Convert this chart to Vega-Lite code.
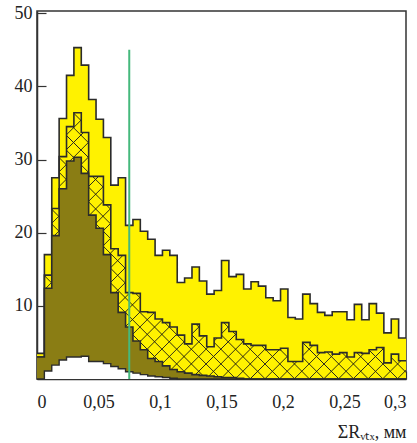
{
  "$schema": "https://vega.github.io/schema/vega-lite/v6.json",
  "width": 369,
  "height": 368,
  "autosize": {"type": "none"},
  "padding": {"left": 37, "top": 11, "right": 11, "bottom": 64},
  "background": "white",
  "config": {"view": {"stroke": "#333", "strokeWidth": 1.5}},
  "data": {"values": [
    {"x": 0, "a": 3.5, "b": 3.0, "c": 3.0, "d": 0},
    {"x": 0.006, "a": 17.0, "b": 14.2, "c": 12.4, "d": 1.1},
    {"x": 0.012, "a": 27.5, "b": 23.3, "c": 19.6, "d": 1.9},
    {"x": 0.018, "a": 35.6, "b": 30.4, "c": 26.0, "d": 2.6},
    {"x": 0.024, "a": 41.5, "b": 34.5, "c": 29.8, "d": 3.0},
    {"x": 0.03, "a": 45.3, "b": 36.4, "c": 30.3, "d": 3.0},
    {"x": 0.036, "a": 42.9, "b": 33.7, "c": 28.1, "d": 3.1},
    {"x": 0.042, "a": 38.2, "b": 27.7, "c": 22.4, "d": 2.4},
    {"x": 0.048, "a": 35.5, "b": 27.7, "c": 20.6, "d": 2.4},
    {"x": 0.054, "a": 33.0, "b": 23.8, "c": 17.0, "d": 2.1},
    {"x": 0.06, "a": 26.5, "b": 17.8, "c": 11.8, "d": 1.7},
    {"x": 0.066, "a": 27.5, "b": 16.9, "c": 9.1, "d": 1.4},
    {"x": 0.072, "a": 21.0, "b": 11.8, "c": 7.1, "d": 1.0},
    {"x": 0.078, "a": 21.8, "b": 11.7, "c": 5.2, "d": 0.8},
    {"x": 0.084, "a": 20.2, "b": 9.2, "c": 4.0, "d": 0.6},
    {"x": 0.09, "a": 19.1, "b": 9.1, "c": 2.8, "d": 0.4},
    {"x": 0.096, "a": 16.9, "b": 8.2, "c": 2.4, "d": 0.3},
    {"x": 0.102, "a": 17.6, "b": 7.7, "c": 1.8, "d": 0.2},
    {"x": 0.108, "a": 16.9, "b": 7.1, "c": 1.3, "d": 0.1},
    {"x": 0.114, "a": 13.2, "b": 6.0, "c": 1.0, "d": 0},
    {"x": 0.12, "a": 13.8, "b": 4.8, "c": 0.8, "d": 0},
    {"x": 0.126, "a": 15.3, "b": 7.5, "c": 0.6, "d": 0},
    {"x": 0.132, "a": 13.4, "b": 5.9, "c": 0.5, "d": 0},
    {"x": 0.138, "a": 11.6, "b": 4.4, "c": 0.4, "d": 0},
    {"x": 0.144, "a": 12.1, "b": 5.6, "c": 0.3, "d": 0},
    {"x": 0.15, "a": 16.2, "b": 7.7, "c": 0.2, "d": 0},
    {"x": 0.156, "a": 14.0, "b": 6.5, "c": 0.2, "d": 0},
    {"x": 0.162, "a": 14.3, "b": 5.4, "c": 0.1, "d": 0},
    {"x": 0.168, "a": 12.3, "b": 4.8, "c": 0, "d": 0},
    {"x": 0.174, "a": 13.3, "b": 4.6, "c": 0, "d": 0},
    {"x": 0.18, "a": 12.7, "b": 4.6, "c": 0, "d": 0},
    {"x": 0.186, "a": 11.1, "b": 4.0, "c": 0, "d": 0},
    {"x": 0.192, "a": 10.7, "b": 4.0, "c": 0, "d": 0},
    {"x": 0.198, "a": 12.3, "b": 4.2, "c": 0, "d": 0},
    {"x": 0.204, "a": 8.4, "b": 2.4, "c": 0, "d": 0},
    {"x": 0.21, "a": 8.2, "b": 2.4, "c": 0, "d": 0},
    {"x": 0.216, "a": 11.6, "b": 5.0, "c": 0, "d": 0},
    {"x": 0.222, "a": 10.3, "b": 4.6, "c": 0, "d": 0},
    {"x": 0.228, "a": 9.1, "b": 3.6, "c": 0, "d": 0},
    {"x": 0.234, "a": 8.7, "b": 3.7, "c": 0, "d": 0},
    {"x": 0.24, "a": 9.2, "b": 3.4, "c": 0, "d": 0},
    {"x": 0.246, "a": 9.2, "b": 3.6, "c": 0, "d": 0},
    {"x": 0.252, "a": 8.1, "b": 3.0, "c": 0, "d": 0},
    {"x": 0.258, "a": 10.2, "b": 3.6, "c": 0, "d": 0},
    {"x": 0.264, "a": 8.1, "b": 3.5, "c": 0, "d": 0},
    {"x": 0.27, "a": 10.3, "b": 4.0, "c": 0, "d": 0},
    {"x": 0.276, "a": 9.0, "b": 4.3, "c": 0, "d": 0},
    {"x": 0.282, "a": 6.3, "b": 2.2, "c": 0, "d": 0},
    {"x": 0.288, "a": 8.2, "b": 3.4, "c": 0, "d": 0},
    {"x": 0.294, "a": 5.6, "b": 2.5, "c": 0, "d": 0},
    {"x": 0.3, "a": 5.6, "b": 2.5, "c": 0, "d": 0}
  ]},
  "encoding": {
    "x": {
      "field": "x", "type": "quantitative",
      "scale": {"domain": [0, 0.3], "nice": false, "zero": false},
      "axis": {
        "values": [0, 0.025, 0.05, 0.075, 0.1, 0.125, 0.15, 0.175, 0.2, 0.225, 0.25, 0.275, 0.3],
        "labelExpr": "abs(datum.value*20 - round(datum.value*20)) < 0.001 ? replace(format(datum.value, '.2~f'), '.', ',') : ''",
        "grid": false,
        "tickSize": -8, "tickColor": "#333", "tickWidth": 1.2,
        "domainColor": "#333", "domainWidth": 1.5,
        "labelFont": "Liberation Serif", "labelFontSize": 18, "labelColor": "#222",
        "labelPadding": 22,
        "title": "ΣRᵥₜₓ, мм",
        "titleFont": "Liberation Serif", "titleFontSize": 18, "titleFontWeight": "normal",
        "titleColor": "#222", "titleAnchor": "end", "titlePadding": 12
      }
    }
  },
  "layer": [
    {
      "mark": {"type": "area", "interpolate": "step-after", "color": "#fff200", "opacity": 1,
               "line": {"color": "#2b2b2b", "strokeWidth": 1.6}},
      "encoding": {
        "y": {"field": "a", "type": "quantitative", "title": null,
              "scale": {"domain": [0, 50.3], "nice": false},
              "axis": {"values": [10, 20, 30, 40, 50], "grid": false,
                       "tickSize": -9, "tickColor": "#333", "tickWidth": 1.2,
                       "domainColor": "#333", "domainWidth": 1.5,
                       "labelFont": "Liberation Serif", "labelFontSize": 18, "labelColor": "#222",
                       "labelPadding": 14, "title": null}}
      }
    },
    {
      "mark": {"type": "area", "interpolate": "step-after", "opacity": 1,
               "color": {"gradient": "linear", "x1": 0, "y1": 0, "x2": 1.133, "y2": 0.816,
                 "stops": [
{"offset":0.0102,"color":"rgba(0,0,0,0)"},{"offset":0.0116,"color":"#222"},{"offset":0.013,"color":"rgba(0,0,0,0)"},
{"offset":0.0334,"color":"rgba(0,0,0,0)"},{"offset":0.0348,"color":"#222"},{"offset":0.0362,"color":"rgba(0,0,0,0)"},
{"offset":0.0566,"color":"rgba(0,0,0,0)"},{"offset":0.058,"color":"#222"},{"offset":0.0594,"color":"rgba(0,0,0,0)"},
{"offset":0.0798,"color":"rgba(0,0,0,0)"},{"offset":0.0812,"color":"#222"},{"offset":0.0826,"color":"rgba(0,0,0,0)"},
{"offset":0.103,"color":"rgba(0,0,0,0)"},{"offset":0.1044,"color":"#222"},{"offset":0.1058,"color":"rgba(0,0,0,0)"},
{"offset":0.1262,"color":"rgba(0,0,0,0)"},{"offset":0.1276,"color":"#222"},{"offset":0.129,"color":"rgba(0,0,0,0)"},
{"offset":0.1494,"color":"rgba(0,0,0,0)"},{"offset":0.1508,"color":"#222"},{"offset":0.1522,"color":"rgba(0,0,0,0)"},
{"offset":0.1726,"color":"rgba(0,0,0,0)"},{"offset":0.174,"color":"#222"},{"offset":0.1754,"color":"rgba(0,0,0,0)"},
{"offset":0.1958,"color":"rgba(0,0,0,0)"},{"offset":0.1972,"color":"#222"},{"offset":0.1986,"color":"rgba(0,0,0,0)"},
{"offset":0.219,"color":"rgba(0,0,0,0)"},{"offset":0.2204,"color":"#222"},{"offset":0.2218,"color":"rgba(0,0,0,0)"},
{"offset":0.2422,"color":"rgba(0,0,0,0)"},{"offset":0.2436,"color":"#222"},{"offset":0.245,"color":"rgba(0,0,0,0)"},
{"offset":0.2654,"color":"rgba(0,0,0,0)"},{"offset":0.2668,"color":"#222"},{"offset":0.2682,"color":"rgba(0,0,0,0)"},
{"offset":0.2886,"color":"rgba(0,0,0,0)"},{"offset":0.29,"color":"#222"},{"offset":0.2914,"color":"rgba(0,0,0,0)"},
{"offset":0.3118,"color":"rgba(0,0,0,0)"},{"offset":0.3132,"color":"#222"},{"offset":0.3146,"color":"rgba(0,0,0,0)"},
{"offset":0.335,"color":"rgba(0,0,0,0)"},{"offset":0.3364,"color":"#222"},{"offset":0.3378,"color":"rgba(0,0,0,0)"},
{"offset":0.3582,"color":"rgba(0,0,0,0)"},{"offset":0.3596,"color":"#222"},{"offset":0.361,"color":"rgba(0,0,0,0)"},
{"offset":0.3814,"color":"rgba(0,0,0,0)"},{"offset":0.3828,"color":"#222"},{"offset":0.3842,"color":"rgba(0,0,0,0)"},
{"offset":0.4046,"color":"rgba(0,0,0,0)"},{"offset":0.406,"color":"#222"},{"offset":0.4074,"color":"rgba(0,0,0,0)"},
{"offset":0.4278,"color":"rgba(0,0,0,0)"},{"offset":0.4292,"color":"#222"},{"offset":0.4306,"color":"rgba(0,0,0,0)"},
{"offset":0.451,"color":"rgba(0,0,0,0)"},{"offset":0.4524,"color":"#222"},{"offset":0.4538,"color":"rgba(0,0,0,0)"},
{"offset":0.4742,"color":"rgba(0,0,0,0)"},{"offset":0.4756,"color":"#222"},{"offset":0.477,"color":"rgba(0,0,0,0)"},
{"offset":0.4974,"color":"rgba(0,0,0,0)"},{"offset":0.4988,"color":"#222"},{"offset":0.5002,"color":"rgba(0,0,0,0)"},
{"offset":0.5206,"color":"rgba(0,0,0,0)"},{"offset":0.522,"color":"#222"},{"offset":0.5234,"color":"rgba(0,0,0,0)"},
{"offset":0.5438,"color":"rgba(0,0,0,0)"},{"offset":0.5452,"color":"#222"},{"offset":0.5466,"color":"rgba(0,0,0,0)"},
{"offset":0.567,"color":"rgba(0,0,0,0)"},{"offset":0.5684,"color":"#222"},{"offset":0.5698,"color":"rgba(0,0,0,0)"},
{"offset":0.5902,"color":"rgba(0,0,0,0)"},{"offset":0.5916,"color":"#222"},{"offset":0.593,"color":"rgba(0,0,0,0)"},
{"offset":0.6134,"color":"rgba(0,0,0,0)"},{"offset":0.6148,"color":"#222"},{"offset":0.6162,"color":"rgba(0,0,0,0)"},
{"offset":0.6366,"color":"rgba(0,0,0,0)"},{"offset":0.638,"color":"#222"},{"offset":0.6394,"color":"rgba(0,0,0,0)"},
{"offset":0.6598,"color":"rgba(0,0,0,0)"},{"offset":0.6612,"color":"#222"},{"offset":0.6626,"color":"rgba(0,0,0,0)"},
{"offset":0.683,"color":"rgba(0,0,0,0)"},{"offset":0.6844,"color":"#222"},{"offset":0.6858,"color":"rgba(0,0,0,0)"},
{"offset":0.7062,"color":"rgba(0,0,0,0)"},{"offset":0.7076,"color":"#222"},{"offset":0.709,"color":"rgba(0,0,0,0)"},
{"offset":0.7294,"color":"rgba(0,0,0,0)"},{"offset":0.7308,"color":"#222"},{"offset":0.7322,"color":"rgba(0,0,0,0)"},
{"offset":0.7526,"color":"rgba(0,0,0,0)"},{"offset":0.754,"color":"#222"},{"offset":0.7554,"color":"rgba(0,0,0,0)"},
{"offset":0.7758,"color":"rgba(0,0,0,0)"},{"offset":0.7772,"color":"#222"},{"offset":0.7786,"color":"rgba(0,0,0,0)"},
{"offset":0.799,"color":"rgba(0,0,0,0)"},{"offset":0.8004,"color":"#222"},{"offset":0.8018,"color":"rgba(0,0,0,0)"},
{"offset":0.8222,"color":"rgba(0,0,0,0)"},{"offset":0.8236,"color":"#222"},{"offset":0.825,"color":"rgba(0,0,0,0)"},
{"offset":0.8454,"color":"rgba(0,0,0,0)"},{"offset":0.8468,"color":"#222"},{"offset":0.8482,"color":"rgba(0,0,0,0)"},
{"offset":0.8686,"color":"rgba(0,0,0,0)"},{"offset":0.87,"color":"#222"},{"offset":0.8714,"color":"rgba(0,0,0,0)"},
{"offset":0.8918,"color":"rgba(0,0,0,0)"},{"offset":0.8932,"color":"#222"},{"offset":0.8946,"color":"rgba(0,0,0,0)"},
{"offset":0.915,"color":"rgba(0,0,0,0)"},{"offset":0.9164,"color":"#222"},{"offset":0.9178,"color":"rgba(0,0,0,0)"},
{"offset":0.9382,"color":"rgba(0,0,0,0)"},{"offset":0.9396,"color":"#222"},{"offset":0.941,"color":"rgba(0,0,0,0)"},
{"offset":0.9614,"color":"rgba(0,0,0,0)"},{"offset":0.9628,"color":"#222"},{"offset":0.9642,"color":"rgba(0,0,0,0)"},
{"offset":0.9846,"color":"rgba(0,0,0,0)"},{"offset":0.986,"color":"#222"},{"offset":0.9874,"color":"rgba(0,0,0,0)"}
                 ]}},
      "encoding": {"y": {"field": "b", "type": "quantitative", "title": null}}
    },
    {
      "mark": {"type": "area", "interpolate": "step-after", "opacity": 1,
               "color": {"gradient": "linear", "x1": 0, "y1": 1, "x2": 1.133, "y2": 0.184,
                 "stops": [
{"offset":0.0102,"color":"rgba(0,0,0,0)"},{"offset":0.0116,"color":"#222"},{"offset":0.013,"color":"rgba(0,0,0,0)"},
{"offset":0.0334,"color":"rgba(0,0,0,0)"},{"offset":0.0348,"color":"#222"},{"offset":0.0362,"color":"rgba(0,0,0,0)"},
{"offset":0.0566,"color":"rgba(0,0,0,0)"},{"offset":0.058,"color":"#222"},{"offset":0.0594,"color":"rgba(0,0,0,0)"},
{"offset":0.0798,"color":"rgba(0,0,0,0)"},{"offset":0.0812,"color":"#222"},{"offset":0.0826,"color":"rgba(0,0,0,0)"},
{"offset":0.103,"color":"rgba(0,0,0,0)"},{"offset":0.1044,"color":"#222"},{"offset":0.1058,"color":"rgba(0,0,0,0)"},
{"offset":0.1262,"color":"rgba(0,0,0,0)"},{"offset":0.1276,"color":"#222"},{"offset":0.129,"color":"rgba(0,0,0,0)"},
{"offset":0.1494,"color":"rgba(0,0,0,0)"},{"offset":0.1508,"color":"#222"},{"offset":0.1522,"color":"rgba(0,0,0,0)"},
{"offset":0.1726,"color":"rgba(0,0,0,0)"},{"offset":0.174,"color":"#222"},{"offset":0.1754,"color":"rgba(0,0,0,0)"},
{"offset":0.1958,"color":"rgba(0,0,0,0)"},{"offset":0.1972,"color":"#222"},{"offset":0.1986,"color":"rgba(0,0,0,0)"},
{"offset":0.219,"color":"rgba(0,0,0,0)"},{"offset":0.2204,"color":"#222"},{"offset":0.2218,"color":"rgba(0,0,0,0)"},
{"offset":0.2422,"color":"rgba(0,0,0,0)"},{"offset":0.2436,"color":"#222"},{"offset":0.245,"color":"rgba(0,0,0,0)"},
{"offset":0.2654,"color":"rgba(0,0,0,0)"},{"offset":0.2668,"color":"#222"},{"offset":0.2682,"color":"rgba(0,0,0,0)"},
{"offset":0.2886,"color":"rgba(0,0,0,0)"},{"offset":0.29,"color":"#222"},{"offset":0.2914,"color":"rgba(0,0,0,0)"},
{"offset":0.3118,"color":"rgba(0,0,0,0)"},{"offset":0.3132,"color":"#222"},{"offset":0.3146,"color":"rgba(0,0,0,0)"},
{"offset":0.335,"color":"rgba(0,0,0,0)"},{"offset":0.3364,"color":"#222"},{"offset":0.3378,"color":"rgba(0,0,0,0)"},
{"offset":0.3582,"color":"rgba(0,0,0,0)"},{"offset":0.3596,"color":"#222"},{"offset":0.361,"color":"rgba(0,0,0,0)"},
{"offset":0.3814,"color":"rgba(0,0,0,0)"},{"offset":0.3828,"color":"#222"},{"offset":0.3842,"color":"rgba(0,0,0,0)"},
{"offset":0.4046,"color":"rgba(0,0,0,0)"},{"offset":0.406,"color":"#222"},{"offset":0.4074,"color":"rgba(0,0,0,0)"},
{"offset":0.4278,"color":"rgba(0,0,0,0)"},{"offset":0.4292,"color":"#222"},{"offset":0.4306,"color":"rgba(0,0,0,0)"},
{"offset":0.451,"color":"rgba(0,0,0,0)"},{"offset":0.4524,"color":"#222"},{"offset":0.4538,"color":"rgba(0,0,0,0)"},
{"offset":0.4742,"color":"rgba(0,0,0,0)"},{"offset":0.4756,"color":"#222"},{"offset":0.477,"color":"rgba(0,0,0,0)"},
{"offset":0.4974,"color":"rgba(0,0,0,0)"},{"offset":0.4988,"color":"#222"},{"offset":0.5002,"color":"rgba(0,0,0,0)"},
{"offset":0.5206,"color":"rgba(0,0,0,0)"},{"offset":0.522,"color":"#222"},{"offset":0.5234,"color":"rgba(0,0,0,0)"},
{"offset":0.5438,"color":"rgba(0,0,0,0)"},{"offset":0.5452,"color":"#222"},{"offset":0.5466,"color":"rgba(0,0,0,0)"},
{"offset":0.567,"color":"rgba(0,0,0,0)"},{"offset":0.5684,"color":"#222"},{"offset":0.5698,"color":"rgba(0,0,0,0)"},
{"offset":0.5902,"color":"rgba(0,0,0,0)"},{"offset":0.5916,"color":"#222"},{"offset":0.593,"color":"rgba(0,0,0,0)"},
{"offset":0.6134,"color":"rgba(0,0,0,0)"},{"offset":0.6148,"color":"#222"},{"offset":0.6162,"color":"rgba(0,0,0,0)"},
{"offset":0.6366,"color":"rgba(0,0,0,0)"},{"offset":0.638,"color":"#222"},{"offset":0.6394,"color":"rgba(0,0,0,0)"},
{"offset":0.6598,"color":"rgba(0,0,0,0)"},{"offset":0.6612,"color":"#222"},{"offset":0.6626,"color":"rgba(0,0,0,0)"},
{"offset":0.683,"color":"rgba(0,0,0,0)"},{"offset":0.6844,"color":"#222"},{"offset":0.6858,"color":"rgba(0,0,0,0)"},
{"offset":0.7062,"color":"rgba(0,0,0,0)"},{"offset":0.7076,"color":"#222"},{"offset":0.709,"color":"rgba(0,0,0,0)"},
{"offset":0.7294,"color":"rgba(0,0,0,0)"},{"offset":0.7308,"color":"#222"},{"offset":0.7322,"color":"rgba(0,0,0,0)"},
{"offset":0.7526,"color":"rgba(0,0,0,0)"},{"offset":0.754,"color":"#222"},{"offset":0.7554,"color":"rgba(0,0,0,0)"},
{"offset":0.7758,"color":"rgba(0,0,0,0)"},{"offset":0.7772,"color":"#222"},{"offset":0.7786,"color":"rgba(0,0,0,0)"},
{"offset":0.799,"color":"rgba(0,0,0,0)"},{"offset":0.8004,"color":"#222"},{"offset":0.8018,"color":"rgba(0,0,0,0)"},
{"offset":0.8222,"color":"rgba(0,0,0,0)"},{"offset":0.8236,"color":"#222"},{"offset":0.825,"color":"rgba(0,0,0,0)"},
{"offset":0.8454,"color":"rgba(0,0,0,0)"},{"offset":0.8468,"color":"#222"},{"offset":0.8482,"color":"rgba(0,0,0,0)"},
{"offset":0.8686,"color":"rgba(0,0,0,0)"},{"offset":0.87,"color":"#222"},{"offset":0.8714,"color":"rgba(0,0,0,0)"},
{"offset":0.8918,"color":"rgba(0,0,0,0)"},{"offset":0.8932,"color":"#222"},{"offset":0.8946,"color":"rgba(0,0,0,0)"},
{"offset":0.915,"color":"rgba(0,0,0,0)"},{"offset":0.9164,"color":"#222"},{"offset":0.9178,"color":"rgba(0,0,0,0)"},
{"offset":0.9382,"color":"rgba(0,0,0,0)"},{"offset":0.9396,"color":"#222"},{"offset":0.941,"color":"rgba(0,0,0,0)"},
{"offset":0.9614,"color":"rgba(0,0,0,0)"},{"offset":0.9628,"color":"#222"},{"offset":0.9642,"color":"rgba(0,0,0,0)"},
{"offset":0.9846,"color":"rgba(0,0,0,0)"},{"offset":0.986,"color":"#222"},{"offset":0.9874,"color":"rgba(0,0,0,0)"}
                 ]}},
      "encoding": {"y": {"field": "b", "type": "quantitative", "title": null}}
    },
    {
      "mark": {"type": "line", "interpolate": "step-after", "color": "#2b2b2b", "strokeWidth": 1.6},
      "encoding": {"y": {"field": "b", "type": "quantitative", "title": null}}
    },
    {
      "mark": {"type": "area", "interpolate": "step-after", "color": "#8a7d14", "opacity": 1,
               "line": {"color": "#2b2b2b", "strokeWidth": 1.6}},
      "encoding": {"y": {"field": "c", "type": "quantitative", "title": null}}
    },
    {
      "mark": {"type": "area", "interpolate": "step-after", "color": "#ffffff", "opacity": 1,
               "line": {"color": "#2b2b2b", "strokeWidth": 1.4}},
      "encoding": {"y": {"field": "d", "type": "quantitative", "title": null}}
    },
    {
      "data": {"values": [{"x": 0.075, "lo": 0, "top": 45}]},
      "mark": {"type": "rule", "color": "#45b97c", "strokeWidth": 2},
      "encoding": {
        "y": {"field": "lo", "type": "quantitative", "title": null},
        "y2": {"field": "top"}
      }
    }
  ]
}
